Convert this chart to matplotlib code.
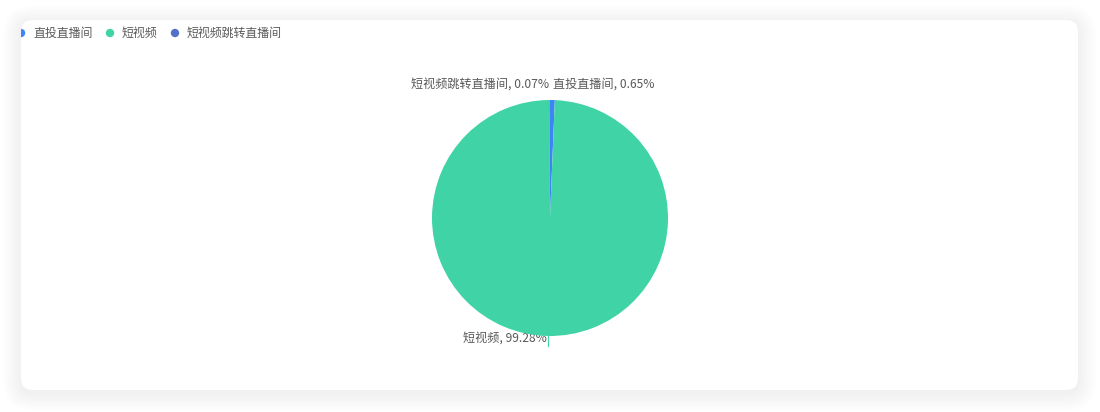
import numpy as np
import matplotlib.pyplot as plt
from matplotlib.patches import FancyBboxPatch, Circle

plt.rcParams['font.family'] = ['Noto Sans CJK SC', 'DejaVu Sans']

# data
categories = ['直投直播间', '短视频', '短视频跳转直播间']
shares = [0.65, 99.28, 0.07]
colors = ['#3D84F7', '#40D3A6', '#5470C6']

W, H = 1100, 412
fig = plt.figure(figsize=(W / 100, H / 100), dpi=100)
fig.patch.set_facecolor('white')

# background axes in pixel coords (y down)
bg = fig.add_axes([0, 0, 1, 1])
bg.set_xlim(0, W)
bg.set_ylim(H, 0)
bg.axis('off')

# card shadow + card
cx0, cy0, cx1, cy1 = 21, 20, 1078, 390
for i in range(14, 0, -1):
    sh = FancyBboxPatch((cx0, cy0 + 3), cx1 - cx0, cy1 - cy0,
                        boxstyle=f'round,pad={i * 1.3},rounding_size={12 + i * 1.3}',
                        fc='black', ec='none', alpha=0.0035)
    bg.add_patch(sh)
card = FancyBboxPatch((cx0, cy0), cx1 - cx0, cy1 - cy0,
                      boxstyle='round,pad=0,rounding_size=12', fc='white', ec='none')
bg.add_patch(card)

# legend (clipped by card like the original)
legend_x = [21, 110, 175]
legend_y = 33
for x, name, c in zip(legend_x, categories, colors):
    dot = Circle((x, legend_y), 4.2, fc=c, ec='none')
    bg.add_patch(dot)
    dot.set_clip_path(card)
    bg.text(x + 12, legend_y, name, fontsize=8.6, color='#595959', va='center', ha='left')

# pie
pcx, pcy, r = 550, 218, 118
pie_ax = fig.add_axes([(pcx - r) / W, (H - pcy - r) / H, 2 * r / W, 2 * r / H])
wedges, _ = pie_ax.pie(shares, colors=colors, startangle=90, counterclock=False,
                       radius=1, wedgeprops=dict(linewidth=0))
pie_ax.set_xlim(-1, 1)
pie_ax.set_ylim(-1, 1)
pie_ax.set_aspect('equal')
pie_ax.axis('off')

# labels
lab_color = '#595959'
fs = 8.7
bg.text(pcx - 1, pcy - r - 16, f'{categories[2]}, {shares[2]:.2f}%', fontsize=fs,
        color=lab_color, ha='right', va='center')
bg.text(pcx + 3, pcy - r - 16, f'{categories[0]}, {shares[0]:.2f}%', fontsize=fs,
        color=lab_color, ha='left', va='center')
bg.plot([pcx - 2, pcx - 2], [pcy + r - 2, pcy + r + 10], color=colors[1], lw=0.8)
bg.text(pcx - 3, pcy + r + 2, f'{categories[1]}, {shares[1]:.2f}%', fontsize=fs,
        color=lab_color, ha='right', va='center')

fig.savefig('out.png', dpi=100, facecolor='white')
